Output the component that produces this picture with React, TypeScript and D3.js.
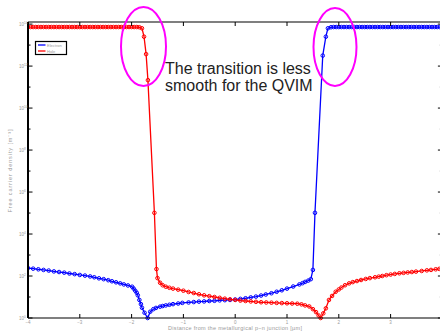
import React from "react";
import * as d3 from "d3";

// [position in um, log10 of density]
const holePoints: [number, number][] = [
  [-4.0, 13.86], [-3.95, 13.86], [-3.9, 13.86], [-3.85, 13.86], [-3.8, 13.86], [-3.75, 13.86],
  [-3.7, 13.86], [-3.65, 13.86], [-3.6, 13.86], [-3.55, 13.86], [-3.5, 13.86], [-3.45, 13.86],
  [-3.4, 13.86], [-3.35, 13.86], [-3.3, 13.86], [-3.25, 13.86], [-3.2, 13.86], [-3.15, 13.86],
  [-3.1, 13.86], [-3.05, 13.86], [-3.0, 13.86], [-2.95, 13.86], [-2.9, 13.86], [-2.85, 13.86],
  [-2.8, 13.86], [-2.75, 13.86], [-2.7, 13.86], [-2.65, 13.86], [-2.6, 13.86], [-2.55, 13.86],
  [-2.5, 13.86], [-2.45, 13.86], [-2.4, 13.86], [-2.35, 13.86], [-2.3, 13.86], [-2.25, 13.86],
  [-2.2, 13.86], [-2.15, 13.86], [-2.1, 13.86], [-2.05, 13.86], [-2.0, 13.86], [-1.95, 13.86],
  [-1.9, 13.86], [-1.85, 13.85], [-1.8, 13.8], [-1.76, 13.4], [-1.72, 12.57], [-1.685, 11.33],
  [-1.56, 5.01], [-1.52, 2.33], [-1.5, 1.9], [-1.45, 1.68], [-1.4, 1.56], [-1.34, 1.49],
  [-1.27, 1.44], [-1.2, 1.4], [-1.1, 1.35], [-1.0, 1.3], [-0.9, 1.24], [-0.8, 1.19],
  [-0.7, 1.13], [-0.6, 1.08], [-0.5, 1.04], [-0.4, 1.0], [-0.3, 0.96], [-0.2, 0.92],
  [-0.1, 0.89], [0.0, 0.86], [0.1, 0.83], [0.2, 0.81], [0.3, 0.79], [0.4, 0.77],
  [0.5, 0.75], [0.6, 0.74], [0.7, 0.73], [0.8, 0.72], [0.9, 0.71], [1.0, 0.7],
  [1.1, 0.69], [1.2, 0.68], [1.28, 0.65], [1.35, 0.6], [1.43, 0.55], [1.5, 0.42],
  [1.56, 0.28], [1.61, 0.12], [1.65, 0.0], [1.7, 0.22], [1.75, 0.46], [1.81, 0.86],
  [1.87, 1.05], [1.94, 1.25], [2.0, 1.36], [2.05, 1.45], [2.12, 1.56], [2.2, 1.65],
  [2.27, 1.71], [2.35, 1.76], [2.43, 1.81], [2.52, 1.86], [2.6, 1.9], [2.7, 1.94],
  [2.77, 1.97], [2.84, 2.0], [2.92, 2.04], [3.0, 2.07], [3.08, 2.1], [3.17, 2.13],
  [3.25, 2.15], [3.33, 2.17], [3.41, 2.19], [3.49, 2.21], [3.6, 2.24], [3.7, 2.27],
  [3.78, 2.29], [3.87, 2.32], [3.94, 2.34], [4.0, 2.36],
];

const electronPoints: [number, number][] = [
  [-4.0, 2.38], [-3.9, 2.35], [-3.8, 2.32], [-3.7, 2.29], [-3.6, 2.26], [-3.5, 2.22],
  [-3.4, 2.19], [-3.3, 2.16], [-3.2, 2.12], [-3.1, 2.09], [-3.0, 2.05], [-2.9, 2.02],
  [-2.8, 1.98], [-2.72, 1.94], [-2.63, 1.89], [-2.54, 1.85], [-2.45, 1.8], [-2.38, 1.75],
  [-2.3, 1.7], [-2.22, 1.65], [-2.15, 1.6], [-2.07, 1.55], [-1.99, 1.49], [-1.96, 1.4],
  [-1.93, 1.3], [-1.9, 1.2], [-1.88, 1.08], [-1.85, 0.86], [-1.82, 0.66], [-1.8, 0.49],
  [-1.75, 0.25], [-1.69, 0.0], [-1.64, 0.3], [-1.58, 0.42], [-1.53, 0.48], [-1.45, 0.54],
  [-1.4, 0.57], [-1.34, 0.6], [-1.27, 0.63], [-1.2, 0.66], [-1.1, 0.69], [-1.02, 0.72],
  [-0.9, 0.74], [-0.8, 0.76], [-0.7, 0.78], [-0.6, 0.79], [-0.5, 0.81], [-0.4, 0.82],
  [-0.3, 0.84], [-0.2, 0.85], [-0.1, 0.86], [0.0, 0.88], [0.1, 0.91], [0.2, 0.94],
  [0.3, 0.98], [0.4, 1.02], [0.5, 1.07], [0.59, 1.12], [0.7, 1.18], [0.8, 1.25],
  [0.9, 1.32], [1.0, 1.4], [1.12, 1.5], [1.24, 1.6], [1.3, 1.66], [1.35, 1.72],
  [1.41, 1.78], [1.46, 1.85], [1.5, 2.29], [1.54, 5.01], [1.69, 12.5], [1.75, 13.4],
  [1.79, 13.8], [1.85, 13.85], [1.9, 13.86], [1.95, 13.86], [2.0, 13.86], [2.05, 13.86],
  [2.1, 13.86], [2.15, 13.86], [2.2, 13.86], [2.25, 13.86], [2.3, 13.86], [2.35, 13.86],
  [2.4, 13.86], [2.45, 13.86], [2.5, 13.86], [2.55, 13.86], [2.6, 13.86], [2.65, 13.86],
  [2.7, 13.86], [2.75, 13.86], [2.8, 13.86], [2.85, 13.86], [2.9, 13.86], [2.95, 13.86],
  [3.0, 13.86], [3.05, 13.86], [3.1, 13.86], [3.15, 13.86], [3.2, 13.86], [3.25, 13.86],
  [3.3, 13.86], [3.35, 13.86], [3.4, 13.86], [3.45, 13.86], [3.5, 13.86], [3.55, 13.86],
  [3.6, 13.86], [3.65, 13.86], [3.7, 13.86], [3.75, 13.86], [3.8, 13.86], [3.85, 13.86],
  [3.9, 13.86], [3.95, 13.86], [4.0, 13.86],
];

const xTickValues = [-4, -3, -2, -1, 0, 1, 2, 3, 4];
const yMajorExp = [0, 2, 4, 6, 8, 10, 12, 14];
const yMinorExp = [1, 3, 5, 7, 9, 11, 13];
const legendLabels = ["Electron", "Hole"];
const noteLines = ["The transition is less", "smooth for the QVIM"];

const W = 440;
const H = 334;
const left = 28;
const top = 22;
const bottom = 318;
const right = 442.4;

const RED = "#ff0000";
const BLUE = "#0000ff";
const MAGENTA = "#ff00ff";
const GREY = "#9a9a9a";

export default function App() {
  const x = d3.scaleLinear().domain([-4, 4]).range([left, right]);
  const y = d3.scaleLog().domain([1, Math.pow(10, 14.1)]).range([bottom, top]).clamp(true);
  const py = (e: number) => y(Math.pow(10, e));

  const line = d3
    .line<[number, number]>()
    .x((d) => x(d[0]))
    .y((d) => py(d[1]));

  const series = [
    { key: "electron", pts: electronPoints, color: BLUE },
    { key: "hole", pts: holePoints, color: RED },
  ];

  const font = "'Liberation Sans', Arial, sans-serif";

  return (
    <svg
      width={W}
      height={H}
      style={{ position: "absolute", left: 0, top: 0, background: "#fff" }}
      fontFamily={font}
    >
      <defs>
        <clipPath id="plot">
          <rect x={left} y={0} width={right - left} height={H} />
        </clipPath>
      </defs>
      <rect x={0} y={0} width={W} height={H} fill="#fff" />

      {/* curves */}
      <g clipPath="url(#plot)">
        {series.map((s) => (
          <g key={s.key}>
            <path d={line(s.pts) || ""} fill="none" stroke={s.color} strokeWidth={1.3} />
            {s.pts.map((d, i) => (
              <circle
                key={i}
                cx={x(d[0])}
                cy={py(d[1])}
                r={1.8}
                fill="none"
                stroke={s.color}
                strokeWidth={1}
              />
            ))}
          </g>
        ))}
      </g>

      {/* axes box */}
      <line x1={left} x2={W} y1={top} y2={top} stroke="#000" strokeWidth={1.2} />
      <line x1={left} x2={W} y1={bottom} y2={bottom} stroke="#000" strokeWidth={1.2} />
      <line x1={left} x2={left} y1={top} y2={bottom} stroke="#000" strokeWidth={2} />

      {/* x ticks */}
      {xTickValues.map((t) => (
        <g key={"xt" + t}>
          <line x1={x(t)} x2={x(t)} y1={bottom} y2={bottom - 4} stroke="#000" strokeWidth={1} />
          <line x1={x(t)} x2={x(t)} y1={top} y2={top + 4} stroke="#000" strokeWidth={1} />
          {x(t) < W - 4 && (
            <text x={x(t)} y={bottom + 6} fontSize={4.5} fill={GREY} textAnchor="middle">
              {t < 0 ? "\u2212" + Math.abs(t) : t}
            </text>
          )}
        </g>
      ))}

      {/* y ticks */}
      {yMajorExp.map((e) => (
        <g key={"ym" + e}>
          <line x1={left} x2={left + 4.5} y1={py(e)} y2={py(e)} stroke="#000" strokeWidth={1} />
          <line x1={right} x2={right - 4.5} y1={py(e)} y2={py(e)} stroke="#000" strokeWidth={1} />
          <text x={19} y={py(e) + 1.5} fontSize={4.5} fill={GREY}>
            10
            <tspan dy={-2} fontSize={3.2}>
              {e}
            </tspan>
          </text>
        </g>
      ))}
      {yMinorExp.map((e) => (
        <g key={"yn" + e}>
          <line x1={left} x2={left + 2.5} y1={py(e)} y2={py(e)} stroke="#000" strokeWidth={1} />
          <line x1={right} x2={right - 2.5} y1={py(e)} y2={py(e)} stroke="#000" strokeWidth={1} />
        </g>
      ))}

      {/* axis labels */}
      <text
        x={235}
        y={330}
        fontSize={5.5}
        fill={GREY}
        textAnchor="middle"
        textLength={134}
        lengthAdjust="spacing"
      >
        Distance from the metallurgical p{"\u2212"}n junction [{"\u00b5"}m]
      </text>
      <text
        transform={`translate(12, 171) rotate(-90)`}
        fontSize={5.5}
        fill={GREY}
        textAnchor="middle"
        textLength={83}
        lengthAdjust="spacing"
      >
        Free carrier density [m{"\u207b\u00b3"}]
      </text>

      {/* legend */}
      <rect x={35.5} y={41.5} width={31} height={13} fill="#fff" stroke="#000" strokeWidth={1.2} />
      {legendLabels.map((lab, i) => (
        <g key={lab}>
          <line
            x1={38}
            x2={45.5}
            y1={45 + i * 6}
            y2={45 + i * 6}
            stroke={i === 0 ? BLUE : RED}
            strokeWidth={1.3}
          />
          <text x={47} y={46.5 + i * 6} fontSize={4} fill={GREY}>
            {lab}
          </text>
        </g>
      ))}

      {/* annotation */}
      <ellipse cx={143.5} cy={46.5} rx={22.5} ry={39.5} fill="none" stroke={MAGENTA} strokeWidth={2} />
      <ellipse cx={335} cy={47} rx={21.5} ry={39} fill="none" stroke={MAGENTA} strokeWidth={2} />
      {noteLines.map((t, i) => (
        <text key={t} x={165} y={74 + i * 17} fontSize={16} fill="#222">
          {t}
        </text>
      ))}
    </svg>
  );
}
